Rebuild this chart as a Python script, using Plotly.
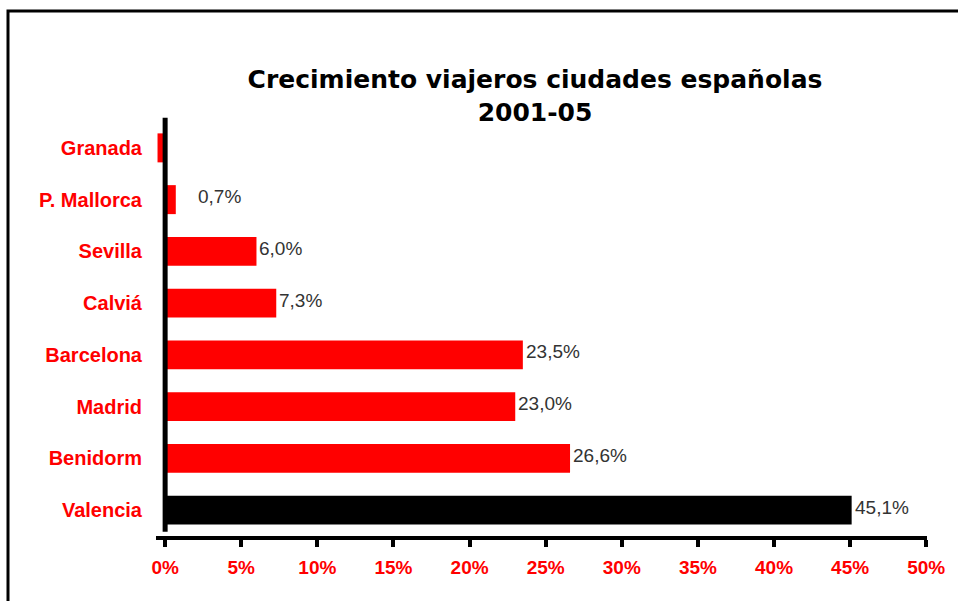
import plotly.graph_objects as go

# data (top to bottom)
cities = ["Granada", "P. Mallorca", "Sevilla", "Calviá", "Barcelona", "Madrid", "Benidorm", "Valencia"]
growth = [-0.5, 0.7, 6.0, 7.3, 23.5, 23.0, 26.6, 45.1]
bar_colors = ["#ff0000"] * 7 + ["#000000"]
tick_vals = [0, 5, 10, 15, 20, 25, 30, 35, 40, 45, 50]
tick_text = [f"{v}%" for v in tick_vals]

W, H = 958, 601
L, R, T, B = 156, 31, 122, 65

fig = go.Figure()
fig.add_trace(go.Bar(
    x=growth, y=cities, orientation="h",
    marker=dict(color=bar_colors, line=dict(width=0)),
    hoverinfo="x+y",
))

# value labels next to each bar (Granada has none in the original)
for city, v in zip(cities, growth):
    if v < 0:
        continue
    fig.add_annotation(
        x=v, y=city, text=f"{v:.1f}".replace(".", ",") + "%",
        xanchor="left", yanchor="middle", showarrow=False,
        xshift=20 if city == "P. Mallorca" else 1, yshift=3,
        font=dict(family="Liberation Sans, Arial", size=19, color="#333333"),
    )

# vertical axis line at zero
fig.add_shape(type="line", xref="x", yref="paper", x0=0, x1=0, y0=0.01, y1=1.01,
              line=dict(color="black", width=5), layer="above")

# outer frame
pw, ph = W - L - R, H - T - B
fig.add_shape(type="rect", xref="paper", yref="paper",
              x0=(8 - L) / pw, x1=(W + 20 - L) / pw,
              y0=-(H + 20 - T - ph) / ph, y1=(H - 11 - B) / ph,
              line=dict(color="black", width=3), layer="above")

fig.update_layout(
    width=W, height=H,
    margin=dict(l=L, r=R, t=T, b=B),
    paper_bgcolor="white", plot_bgcolor="white",
    showlegend=False, bargap=0.44,
    title=dict(
        text="Crecimiento viajeros ciudades españolas<br>2001-05",
        x=535 / W, xref="container", xanchor="center",
        y=1 - 88 / H, yref="container", yanchor="top",
        font=dict(family="DejaVu Sans", size=25, color="black", weight="bold"),
    ),
    font=dict(family="Liberation Sans, Arial"),
)

fig.update_xaxes(
    range=[-0.6, 50.05], tickvals=tick_vals, ticktext=tick_text,
    showgrid=False, zeroline=False,
    showline=True, linecolor="black", linewidth=4,
    ticks="outside", ticklen=7, tickwidth=4, tickcolor="black",
    ticklabelstandoff=4,
    tickfont=dict(family="Liberation Sans, Arial", size=19, color="#ff0000", weight="bold"),
)
fig.update_yaxes(
    autorange="reversed", showgrid=False, zeroline=False, showline=False,
    ticks="", ticklabelstandoff=13,
    tickfont=dict(family="Liberation Sans, Arial", size=20, color="#ff0000", weight="bold"),
)

fig.write_html("out.html", config={"displayModeBar": False},
               post_script="document.body.style.margin='0';")
